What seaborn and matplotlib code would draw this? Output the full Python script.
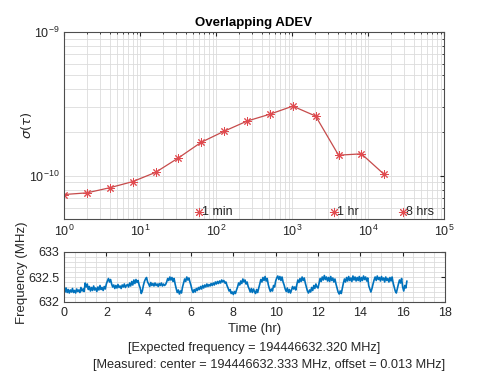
import numpy as np
import pandas as pd
import matplotlib
matplotlib.use("Agg")
import matplotlib.pyplot as plt
from matplotlib.ticker import LogLocator, MultipleLocator, NullFormatter, FuncFormatter
import seaborn as sns

# ---- data ----
tau = [1, 2, 4, 8, 16, 32, 64, 128, 256, 512, 1024, 2048, 4096, 8192, 16384]
adev = [7.4e-11, 7.6e-11, 8.25e-11, 9.1e-11, 1.055e-10, 1.33e-10, 1.71e-10,
        2.04e-10, 2.40e-10, 2.68e-10, 3.05e-10, 2.60e-10, 1.39e-10, 1.42e-10, 1.02e-10]

event_tau = [60, 3600, 28800]
event_labels = ["1 min", "1 hr", "8 hrs"]
event_level = [5.6e-11, 5.6e-11, 5.6e-11]

freq_step_hr = 0.05
freq = [
    632.33, 632.20, 632.28, 632.19, 632.25, 632.18, 632.24, 632.20, 632.27, 632.19, 632.23, 632.18, 632.26, 632.21, 632.24, 632.19, 632.29, 632.22, 632.26, 632.21,
    632.38, 632.30, 632.36, 632.25, 632.31, 632.22, 632.29, 632.23, 632.32, 632.24, 632.28, 632.21, 632.30, 632.24, 632.33, 632.25, 632.29, 632.23, 632.31, 632.26,
    632.36, 632.42, 632.47, 632.40, 632.45, 632.36, 632.30, 632.34, 632.27, 632.33, 632.28, 632.35, 632.29, 632.32, 632.27, 632.34, 632.30, 632.36, 632.29, 632.33,
    632.35, 632.30, 632.38, 632.32, 632.41, 632.34, 632.44, 632.37, 632.45, 632.39, 632.43, 632.34, 632.28, 632.17, 632.22, 632.33, 632.41, 632.46, 632.49, 632.40,
    632.36, 632.31, 632.39, 632.33, 632.37, 632.32, 632.38, 632.33, 632.36, 632.31, 632.37, 632.33, 632.38, 632.32, 632.36, 632.33, 632.35, 632.40, 632.47, 632.43,
    632.50, 632.44, 632.49, 632.41, 632.47, 632.36, 632.27, 632.19, 632.24, 632.16, 632.22, 632.18, 632.30, 632.38, 632.46, 632.41, 632.50, 632.44, 632.48, 632.40,
    632.33, 632.24, 632.19, 632.25, 632.20, 632.27, 632.23, 632.29, 632.25, 632.31, 632.26, 632.33, 632.28, 632.34, 632.30, 632.36, 632.31, 632.35, 632.32, 632.37,
    632.33, 632.38, 632.34, 632.40, 632.36, 632.41, 632.37, 632.42, 632.38, 632.44, 632.40, 632.43, 632.38, 632.40, 632.33, 632.28, 632.22, 632.25, 632.17, 632.20,
    632.15, 632.21, 632.17, 632.24, 632.30, 632.38, 632.34, 632.42, 632.37, 632.46, 632.40, 632.44, 632.36, 632.40, 632.31, 632.26, 632.20, 632.27, 632.19, 632.26,
    632.21, 632.17, 632.25, 632.19, 632.28, 632.36, 632.45, 632.40, 632.49, 632.43, 632.51, 632.42, 632.47, 632.35, 632.27, 632.21, 632.26, 632.22, 632.33, 632.30,
    632.42, 632.48, 632.52, 632.45, 632.51, 632.43, 632.50, 632.40, 632.34, 632.26, 632.21, 632.28, 632.19, 632.25, 632.18, 632.24, 632.31, 632.26, 632.30, 632.24,
    632.35, 632.44, 632.39, 632.47, 632.41, 632.50, 632.43, 632.48, 632.38, 632.30, 632.22, 632.18, 632.24, 632.20, 632.29, 632.23, 632.33, 632.27, 632.36, 632.30,
    632.28, 632.38, 632.47, 632.41, 632.50, 632.44, 632.53, 632.45, 632.50, 632.42, 632.49, 632.41, 632.51, 632.43, 632.48, 632.40, 632.46, 632.36, 632.28, 632.20,
    632.16, 632.22, 632.17, 632.28, 632.38, 632.46, 632.40, 632.49, 632.42, 632.51, 632.43, 632.48, 632.41, 632.52, 632.44, 632.50, 632.42, 632.49, 632.43, 632.51,
    632.41, 632.49, 632.43, 632.52, 632.45, 632.50, 632.42, 632.48, 632.32, 632.26, 632.20, 632.27, 632.36, 632.44, 632.50, 632.43, 632.52, 632.45, 632.49, 632.42,
    632.51, 632.44, 632.48, 632.40, 632.50, 632.43, 632.47, 632.40, 632.49, 632.42, 632.50, 632.38, 632.30, 632.22, 632.18, 632.27, 632.36, 632.44, 632.38, 632.47,
    632.30, 632.22, 632.33, 632.28, 632.42,
]
time_hr = [round(i * freq_step_hr, 2) for i in range(len(freq))]

title = "Overlapping ADEV"
note1 = "[Expected frequency = 194446632.320 MHz]"
note2 = "[Measured: center = 194446632.333 MHz, offset = 0.013 MHz]"

# ---- style ----
sns.set_style("white")
plt.rcParams["font.family"] = ["Liberation Sans", "DejaVu Sans"]
plt.rcParams["mathtext.fontset"] = "dejavusans"
edge = "#4d4d4d"
txt = "#262626"
plt.rcParams.update({
    "axes.edgecolor": edge,
    "axes.linewidth": 0.8,
    "xtick.color": txt,
    "ytick.color": txt,
    "xtick.labelcolor": txt,
    "ytick.labelcolor": txt,
})

fig = plt.figure(figsize=(4.8, 3.84), dpi=100)
ax1 = fig.add_axes([64 / 480, 1 - 219 / 384, 380 / 480, 187 / 384])
ax2 = fig.add_axes([64 / 480, 1 - 302 / 384, 381 / 480, 50 / 384])

grid_kw = dict(color="#dcdcdc", linewidth=0.6)

# ---- top: ADEV ----
df_adev = pd.DataFrame({"tau": tau, "adev": adev})
sns.lineplot(data=df_adev, x="tau", y="adev", ax=ax1, color="#c64b4b",
             linewidth=0.9, marker=(8, 2, 0), markersize=6,
             markeredgecolor="#e04a4f", markeredgewidth=0.7)
ax1.set_xscale("log")
ax1.set_yscale("log")
ax1.set_xlim(1, 1e5)
ax1.set_ylim(5e-11, 1e-9)

df_ev = pd.DataFrame({"tau": event_tau, "lvl": event_level, "lab": event_labels})
sns.scatterplot(data=df_ev, x="tau", y="lvl", ax=ax1, marker=(8, 2, 0), s=36,
                color="#e04a4f", edgecolor="#e04a4f", linewidth=0.7, zorder=5)
for t, l, lab in zip(event_tau, event_level, event_labels):
    ax1.text(t * 1.1, l, lab, fontsize=9, color=txt, va="center", ha="left")

ax1.xaxis.set_major_locator(LogLocator(base=10, numticks=10))
ax1.xaxis.set_minor_locator(LogLocator(base=10, subs=np.arange(2, 10), numticks=20))
ax1.xaxis.set_minor_formatter(NullFormatter())
ax1.yaxis.set_major_locator(LogLocator(base=10, numticks=10))
ax1.yaxis.set_minor_locator(LogLocator(base=10, subs=np.arange(2, 10), numticks=20))
ax1.yaxis.set_minor_formatter(NullFormatter())
ax1.grid(True, which="both", **grid_kw)
ax1.set_axisbelow(True)
ax1.tick_params(which="both", direction="in", top=True, right=True, labelsize=9)
ax1.tick_params(which="major", length=3)
ax1.tick_params(which="minor", length=1.5)
ax1.set_xlabel("")
ax1.set_ylabel(r"$\sigma(\tau)$", fontsize=9.5, color=txt)
ax1.yaxis.set_label_coords((34 - 64) / 380, 0.5)
ax1.set_title(title, fontsize=9.5, fontweight="bold", pad=4, color="black")

# ---- bottom: frequency ----
df_f = pd.DataFrame({"t": time_hr, "f": freq})
sns.lineplot(data=df_f, x="t", y="f", ax=ax2, color="#0072BD", linewidth=1.2)
ax2.set_xlim(0, 18)
ax2.set_ylim(632, 633)
ax2.xaxis.set_major_locator(MultipleLocator(2))
ax2.xaxis.set_minor_locator(MultipleLocator(0.5))
ax2.yaxis.set_major_locator(MultipleLocator(0.5))
ax2.yaxis.set_minor_locator(MultipleLocator(0.1))
ax2.yaxis.set_major_formatter(FuncFormatter(lambda v, p: "%g" % v))
ax2.grid(True, which="both", **grid_kw)
ax2.set_axisbelow(True)
ax2.tick_params(which="both", direction="in", top=True, right=True, labelsize=9)
ax2.tick_params(which="major", length=3)
ax2.tick_params(which="minor", length=0)
ax2.set_xlabel("Time (hr)", fontsize=9.5, color=txt, labelpad=3)
ax2.set_ylabel("Frequency (MHz)", fontsize=9.5, color=txt)
ax2.yaxis.set_label_coords((28 - 64) / 381, (302 - 273) / 50)

fig.text(254 / 480, 1 - 348 / 384, note1, ha="center", va="center",
         fontsize=9.2, color=txt)
fig.text(269 / 480, 1 - 365 / 384, note2, ha="center", va="center",
         fontsize=9.2, color=txt)

fig.savefig("out.png", dpi=100)
